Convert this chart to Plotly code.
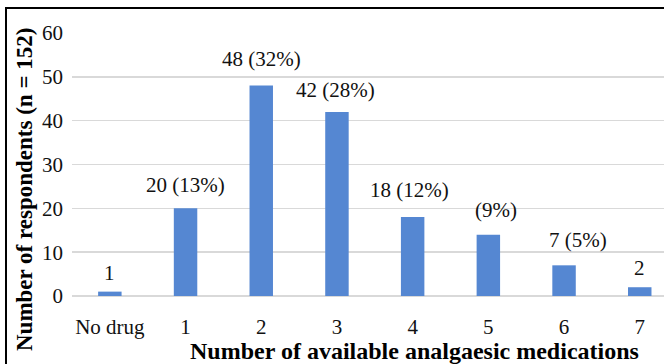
import plotly.graph_objects as go

# ---- data ----
categories = ["No drug", "1", "2", "3", "4", "5", "6", "7"]
respondents = [1, 20, 48, 42, 18, 14, 7, 2]
bar_labels = ["1", "20 (13%)", "48 (32%)", "42 (28%)", "18 (12%)", "(9%)", "7 (5%)", "2"]
y_ticks = [0, 10, 20, 30, 40, 50, 60]

# ---- label placement (style) ----
label_xshift = [0, 0, 0, -1, -3, 8, 14, 0]
label_yshift = [5, 9, 13, 8, 13, 11, 11, 5]

FONT = "Liberation Serif"
W, H = 664, 364
L, R, T, B = 72, 0, 33, 68
plot_w = W - L - R
plot_h = H - T - B
cat_px = 75.7

fig = go.Figure()
fig.add_trace(go.Bar(
    x=list(range(len(categories))),
    y=respondents,
    marker=dict(color="#5587D2", line=dict(width=0)),
    hoverinfo="skip",
))

for i, (v, t) in enumerate(zip(respondents, bar_labels)):
    fig.add_annotation(
        x=i, y=v, text=t, showarrow=False,
        xanchor="center", yanchor="bottom",
        xshift=label_xshift[i], yshift=label_yshift[i],
        font=dict(family=FONT, size=21, color="#111111"),
    )

def px_x(p):
    return (p - L) / plot_w

def px_y(p):
    return (H - B - p) / plot_h

# axis titles
fig.add_annotation(
    x=px_x(24), y=px_y(190), xref="paper", yref="paper",
    text="<b>Number of respondents (n = 152)</b>", textangle=-90,
    showarrow=False, xanchor="center", yanchor="middle",
    font=dict(family=FONT, size=23, color="#000000"),
)
fig.add_annotation(
    x=px_x(414), y=px_y(351), xref="paper", yref="paper",
    text="<b>Number of available analgaesic medications</b>",
    showarrow=False, xanchor="center", yanchor="middle",
    font=dict(family=FONT, size=24, color="#000000"),
)

# outer frame
fig.add_shape(
    type="rect", xref="paper", yref="paper",
    x0=px_x(6), x1=1.05, y0=-0.5, y1=px_y(8),
    line=dict(color="#000000", width=2), fillcolor="rgba(0,0,0,0)", layer="above",
)

fig.update_layout(
    width=W, height=H,
    margin=dict(l=L, r=R, t=T, b=B),
    paper_bgcolor="white", plot_bgcolor="white",
    bargap=0.69,
    showlegend=False,
    font=dict(family=FONT, color="#111111"),
    xaxis=dict(
        tickmode="array",
        tickvals=list(range(len(categories))),
        ticktext=categories,
        range=[-0.5, -0.5 + plot_w / cat_px],
        showgrid=False, zeroline=False, showline=False,
        ticks="", ticklabelstandoff=16,
        tickfont=dict(family=FONT, size=21, color="#111111"),
        fixedrange=True,
    ),
    yaxis=dict(
        range=[0, 60],
        tickmode="array", tickvals=y_ticks,
        showgrid=True, gridcolor="#D9D9D9", gridwidth=1.5,
        zeroline=True, zerolinecolor="#D9D9D9", zerolinewidth=1.5,
        showline=False, ticks="", ticklabelstandoff=8,
        tickfont=dict(family=FONT, size=21, color="#111111"),
        fixedrange=True,
    ),
)

fig.write_html(
    "out.html",
    config={"displayModeBar": False, "staticPlot": True},
    post_script="document.body.style.margin='0';document.body.style.overflow='hidden';",
)
